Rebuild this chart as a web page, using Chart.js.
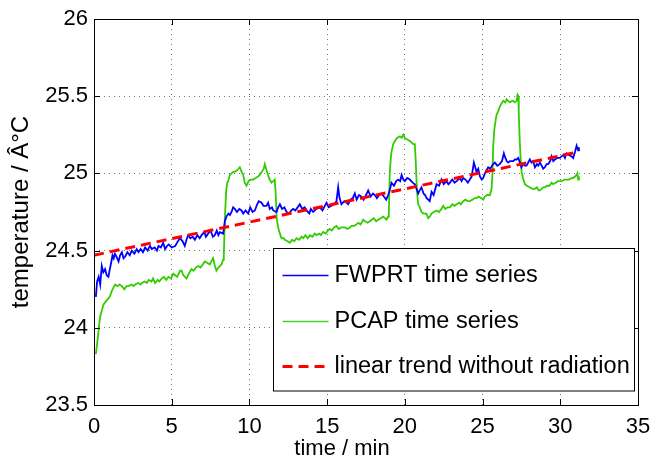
<!DOCTYPE html>
<html>
<head>
<meta charset="utf-8">
<script src="https://cdn.jsdelivr.net/npm/chart.js@4.4.0/dist/chart.umd.min.js"></script>
<style>
  html, body { margin: 0; padding: 0; background: #fff; }
  #wrap { width: 654px; height: 459px; }
</style>
</head>
<body>
<div id="wrap"><canvas id="tempChart" width="654" height="459"></canvas></div>
<script>
// time (min) / temperature (degC) pairs
const fwprtSeries = [
  [0.12,24.20],[0.2,24.30],[0.3,24.33],[0.4,24.28],[0.5,24.40],[0.6,24.36],[0.71,24.38],[0.82,24.34],[0.93,24.33],[1.0,24.37],
  [1.1,24.42],[1.19,24.47],[1.27,24.45],[1.35,24.48],[1.45,24.46],[1.58,24.43],[1.68,24.47],[1.79,24.49],[1.9,24.45],[2.0,24.46],
  [2.15,24.49],[2.3,24.47],[2.43,24.50],[2.6,24.48],[2.75,24.51],[2.86,24.49],[3.0,24.51],[3.15,24.49],[3.29,24.52],[3.45,24.50],
  [3.6,24.53],[3.72,24.51],[3.9,24.52],[4.05,24.50],[4.15,24.53],[4.3,24.52],[4.45,24.55],[4.58,24.51],[4.7,24.53],[4.8,24.54],
  [5.0,24.52],[5.22,24.53],[5.4,24.56],[5.54,24.58],[5.7,24.56],[5.84,24.53],[5.95,24.57],[6.06,24.60],[6.2,24.58],[6.35,24.59],
  [6.49,24.57],[6.65,24.60],[6.8,24.58],[6.92,24.60],[7.1,24.62],[7.2,24.59],[7.34,24.61],[7.5,24.63],[7.65,24.59],[7.77,24.60],
  [7.9,24.63],[8.0,24.60],[8.1,24.62],[8.31,24.61],[8.42,24.69],[8.52,24.72],[8.65,24.74],[8.75,24.73],[8.85,24.75],[8.95,24.78],
  [9.06,24.77],[9.2,24.75],[9.35,24.77],[9.49,24.76],[9.6,24.74],[9.75,24.76],[9.92,24.74],[10.05,24.78],[10.2,24.75],[10.35,24.76],
  [10.5,24.80],[10.6,24.82],[10.78,24.81],[10.9,24.79],[11.1,24.79],[11.2,24.81],[11.31,24.77],[11.45,24.78],[11.53,24.76],[11.74,24.75],
  [11.85,24.78],[11.96,24.80],[12.1,24.77],[12.25,24.78],[12.39,24.75],[12.55,24.74],[12.7,24.76],[12.81,24.77],[12.95,24.76],[13.1,24.78],
  [13.24,24.80],[13.4,24.77],[13.55,24.78],[13.67,24.76],[13.85,24.74],[13.95,24.77],[14.1,24.75],[14.3,24.77],[14.53,24.78],[14.7,24.76],
  [14.85,24.79],[14.96,24.81],[15.1,24.78],[15.28,24.79],[15.45,24.80],[15.6,24.82],[15.71,24.91],[15.8,24.84],[15.92,24.80],[16.1,24.82],
  [16.25,24.81],[16.35,24.80],[16.5,24.83],[16.65,24.84],[16.78,24.87],[16.9,24.83],[17.05,24.86],[17.21,24.85],[17.35,24.83],[17.5,24.86],
  [17.64,24.89],[17.8,24.85],[17.95,24.87],[18.07,24.86],[18.2,24.84],[18.35,24.86],[18.5,24.87],[18.65,24.85],[18.8,24.83],[18.93,24.86],
  [19.05,24.90],[19.14,24.94],[19.3,24.92],[19.45,24.95],[19.57,24.96],[19.7,24.95],[19.79,24.99],[19.9,24.96],[20.0,24.95],[20.15,24.97],
  [20.32,24.96],[20.5,24.94],[20.64,24.93],[20.75,24.90],[20.86,24.87],[20.95,24.89],[21.07,24.91],[21.2,24.87],[21.3,24.86],[21.4,24.84],
  [21.5,24.83],[21.6,24.82],[21.72,24.88],[21.85,24.86],[22.04,24.93],[22.2,24.92],[22.36,24.96],[22.5,24.93],[22.68,24.95],[22.8,24.93],
  [22.9,24.94],[23.05,24.96],[23.2,24.94],[23.33,24.95],[23.54,24.97],[23.65,24.95],[23.75,24.97],[23.9,24.96],[24.05,24.94],[24.18,24.96],
  [24.3,24.98],[24.44,25.07],[24.5,25.05],[24.61,25.01],[24.72,25.03],[24.83,24.98],[24.95,24.96],[25.04,24.97],[25.15,25.00],[25.25,25.02],
  [25.36,25.04],[25.5,25.03],[25.68,25.06],[25.79,25.07],[25.95,25.05],[26.1,25.06],[26.25,25.08],[26.37,25.13],[26.43,25.11],[26.55,25.08],
  [26.65,25.07],[26.76,25.08],[26.97,25.08],[27.08,25.09],[27.19,25.09],[27.3,25.10],[27.4,25.07],[27.5,25.04],[27.61,25.06],[27.72,25.05],
  [27.83,25.05],[28.04,25.09],[28.15,25.07],[28.26,25.08],[28.37,25.04],[28.5,25.06],[28.58,25.05],[28.69,25.07],[28.8,25.05],[28.9,25.03],
  [29.01,25.04],[29.12,25.06],[29.22,25.06],[29.35,25.08],[29.44,25.11],[29.55,25.08],[29.65,25.09],[29.8,25.10],[29.97,25.10],[30.08,25.11],
  [30.2,25.12],[30.3,25.10],[30.4,25.13],[30.55,25.12],[30.73,25.11],[30.83,25.10],[30.95,25.14],[31.05,25.18],[31.15,25.15],[31.2,25.17]
];

const pcapSeries = [
  [0.12,23.83],[0.18,23.88],[0.25,23.94],[0.32,24.01],[0.39,24.07],[0.5,24.11],[0.61,24.15],[0.75,24.17],[0.93,24.19],[1.05,24.21],
  [1.15,24.24],[1.25,24.26],[1.36,24.28],[1.5,24.27],[1.65,24.28],[1.79,24.27],[1.95,24.25],[2.1,24.27],[2.22,24.27],[2.4,24.28],
  [2.55,24.27],[2.65,24.28],[2.85,24.29],[3.0,24.28],[3.08,24.29],[3.25,24.30],[3.4,24.29],[3.51,24.31],[3.7,24.30],[3.8,24.32],
  [3.93,24.29],[4.1,24.31],[4.2,24.30],[4.36,24.32],[4.5,24.33],[4.65,24.31],[4.79,24.33],[4.95,24.32],[5.1,24.35],[5.22,24.34],
  [5.35,24.33],[5.54,24.37],[5.63,24.37],[5.75,24.34],[5.85,24.33],[5.95,24.32],[6.1,24.35],[6.27,24.38],[6.4,24.37],[6.55,24.39],
  [6.7,24.40],[6.85,24.39],[7.0,24.41],[7.13,24.43],[7.3,24.42],[7.45,24.41],[7.55,24.43],[7.66,24.45],[7.78,24.40],[7.88,24.37],
  [8.0,24.39],[8.1,24.40],[8.2,24.41],[8.3,24.44],[8.35,24.46],[8.42,24.71],[8.5,24.88],[8.57,24.94],[8.63,24.95],[8.74,24.99],
  [8.85,25.00],[8.95,25.01],[9.06,25.01],[9.2,25.02],[9.3,25.03],[9.38,25.04],[9.5,25.01],[9.6,24.99],[9.7,24.94],[9.81,24.92],
  [9.95,24.95],[10.1,24.96],[10.24,24.96],[10.4,24.97],[10.55,24.98],[10.67,24.99],[10.8,25.01],[10.92,25.03],[10.99,25.06],[11.1,25.02],
  [11.2,24.99],[11.3,24.96],[11.42,24.94],[11.53,24.95],[11.63,24.96],[11.7,24.85],[11.75,24.71],[11.85,24.65],[11.96,24.61],[12.06,24.58],
  [12.2,24.58],[12.28,24.57],[12.45,24.56],[12.6,24.55],[12.75,24.57],[12.88,24.56],[13.03,24.58],[13.2,24.57],[13.35,24.59],[13.46,24.58],
  [13.6,24.60],[13.75,24.58],[13.89,24.60],[14.05,24.59],[14.2,24.61],[14.31,24.60],[14.5,24.61],[14.6,24.60],[14.74,24.62],[14.9,24.61],
  [15.05,24.63],[15.17,24.64],[15.3,24.63],[15.45,24.65],[15.6,24.66],[15.75,24.64],[15.9,24.65],[16.03,24.65],[16.14,24.65],[16.3,24.64],
  [16.46,24.65],[16.57,24.66],[16.75,24.66],[16.89,24.67],[17.0,24.68],[17.15,24.67],[17.32,24.70],[17.43,24.69],[17.6,24.68],[17.75,24.69],
  [17.86,24.70],[18.0,24.71],[18.15,24.69],[18.28,24.70],[18.45,24.71],[18.6,24.72],[18.72,24.71],[18.82,24.70],[18.92,24.72],[18.97,24.74],
  [19.03,25.01],[19.1,25.10],[19.14,25.14],[19.25,25.19],[19.36,25.21],[19.5,25.23],[19.68,25.24],[19.8,25.23],[19.9,25.25],[20.0,25.23],
  [20.15,25.22],[20.32,25.21],[20.43,25.20],[20.54,25.19],[20.64,25.19],[20.7,25.08],[20.75,24.95],[20.8,24.86],[20.86,24.80],[20.96,24.78],
  [21.07,24.75],[21.2,24.74],[21.39,24.74],[21.5,24.71],[21.6,24.72],[21.72,24.74],[21.85,24.75],[22.04,24.76],[22.2,24.75],[22.35,24.77],
  [22.47,24.79],[22.6,24.77],[22.75,24.78],[22.9,24.78],[23.05,24.80],[23.2,24.79],[23.33,24.80],[23.5,24.81],[23.6,24.80],[23.75,24.82],
  [23.9,24.83],[24.05,24.82],[24.18,24.82],[24.35,24.83],[24.5,24.84],[24.61,24.84],[24.75,24.85],[24.9,24.84],[25.04,24.83],[25.15,24.85],
  [25.3,24.86],[25.47,24.86],[25.58,24.90],[25.64,25.00],[25.68,25.17],[25.75,25.28],[25.82,25.33],[25.9,25.38],[26.0,25.40],[26.1,25.43],
  [26.2,25.45],[26.33,25.47],[26.45,25.46],[26.55,25.48],[26.65,25.47],[26.76,25.46],[26.9,25.47],[26.97,25.47],[27.08,25.46],[27.19,25.47],
  [27.25,25.51],[27.3,25.50],[27.33,25.38],[27.4,25.19],[27.45,25.10],[27.51,25.01],[27.6,24.97],[27.72,24.93],[27.85,24.92],[28.04,24.91],
  [28.2,24.90],[28.37,24.90],[28.5,24.91],[28.6,24.89],[28.69,24.89],[28.8,24.90],[28.9,24.91],[29.01,24.91],[29.15,24.92],[29.3,24.92],
  [29.44,24.94],[29.54,24.93],[29.7,24.94],[29.86,24.95],[29.97,24.95],[30.1,24.95],[30.29,24.96],[30.4,24.96],[30.55,24.96],[30.73,24.97],
  [30.83,24.97],[30.95,24.98],[31.05,24.99],[31.1,25.00],[31.15,24.96],[31.2,24.98]
];

const trendLine = [[0, 24.47], [31.2, 25.14]];

const seriesNames = ["FWPRT time series", "PCAP time series", "linear trend without radiation"];
const xTicks = [0, 5, 10, 15, 20, 25, 30, 35];
const yTicks = [23.5, 24, 24.5, 25, 25.5, 26];
const xTitle = "time / min";
const yTitle = "temperature / Â°C";

const toPts = arr => arr.map(p => ({ x: p[0], y: p[1] }));
const FONT = "'Liberation Sans', Arial, sans-serif";

// box, inward ticks, x label and legend, drawn MATLAB-style
const axesBox = {
  id: "axesBox",
  afterDatasetsDraw(chart) {
    const { ctx, chartArea: a, scales: { x, y } } = chart;
    ctx.save();
    ctx.strokeStyle = "#000";
    ctx.lineWidth = 1;
    ctx.setLineDash([]);
    ctx.strokeRect(Math.round(a.left) + 0.5, Math.round(a.top) + 0.5,
      Math.round(a.right - a.left), Math.round(a.bottom - a.top));
    const tl = 6;
    ctx.beginPath();
    xTicks.forEach(v => {
      const px = Math.round(x.getPixelForValue(v)) + 0.5;
      ctx.moveTo(px, a.bottom); ctx.lineTo(px, a.bottom - tl);
      ctx.moveTo(px, a.top); ctx.lineTo(px, a.top + tl);
    });
    yTicks.forEach(v => {
      const py = Math.round(y.getPixelForValue(v)) + 0.5;
      ctx.moveTo(a.left, py); ctx.lineTo(a.left + tl, py);
      ctx.moveTo(a.right, py); ctx.lineTo(a.right - tl, py);
    });
    ctx.stroke();

    // x axis label (sits a bit left of centre in the original)
    ctx.fillStyle = "#000";
    ctx.font = "22px " + FONT;
    ctx.textAlign = "center";
    ctx.textBaseline = "middle";
    ctx.fillText(xTitle, (a.left + a.right) / 2 - 24, a.bottom + 44);

    // legend
    const bx = a.right - 364.5, by = a.bottom - 156.5, bw = 361, bh = 142.5;
    ctx.fillStyle = "#fff";
    ctx.fillRect(bx, by, bw, bh);
    ctx.strokeRect(bx, by, bw, bh);
    const rows = [by + 26, by + 72, by + 117];
    const styles = [
      { c: "#0000ff", w: 1.3, d: [] },
      { c: "rgb(70,210,40)", w: 1.3, d: [] },
      { c: "#ff0000", w: 3, d: [10, 6] }
    ];
    ctx.font = "23.5px " + FONT;
    ctx.textAlign = "left";
    seriesNames.forEach((name, i) => {
      const s = styles[i];
      ctx.beginPath();
      ctx.strokeStyle = s.c;
      ctx.lineWidth = s.w;
      ctx.setLineDash(s.d);
      ctx.moveTo(bx + 9, Math.round(rows[i]) + 0.5);
      ctx.lineTo(bx + 55, Math.round(rows[i]) + 0.5);
      ctx.stroke();
      ctx.setLineDash([]);
      ctx.fillStyle = "#000";
      ctx.fillText(name, bx + 61, rows[i] + 1);
    });
    ctx.restore();
  }
};

new Chart(document.getElementById("tempChart"), {
  type: "scatter",
  data: {
    datasets: [
      {
        label: seriesNames[0],
        data: toPts(fwprtSeries),
        showLine: true,
        borderColor: "#0000ff",
        borderWidth: 1.8,
        pointRadius: 0,
        order: 2
      },
      {
        label: seriesNames[1],
        data: toPts(pcapSeries),
        showLine: true,
        borderColor: "rgb(51,204,0)",
        borderWidth: 1.8,
        pointRadius: 0,
        order: 3
      },
      {
        label: seriesNames[2],
        data: toPts(trendLine),
        showLine: true,
        borderColor: "#ff0000",
        borderWidth: 3,
        borderDash: [10, 6],
        pointRadius: 0,
        order: 1
      }
    ]
  },
  options: {
    responsive: false,
    animation: false,
    devicePixelRatio: 1,
    layout: { padding: { top: 19, right: 16, left: 0, bottom: 0 } },
    plugins: {
      legend: { display: false },
      tooltip: { enabled: false }
    },
    scales: {
      x: {
        type: "linear",
        min: 0,
        max: 35,
        afterFit: s => { s.height = 54; s.paddingLeft = 0; s.paddingRight = 0; },
        afterBuildTicks: s => { s.ticks = xTicks.map(v => ({ value: v })); },
        ticks: { color: "#000", font: { family: FONT, size: 22 }, padding: 9, maxRotation: 0,
                 callback: v => String(v) },
        grid: { color: "rgba(0,0,0,0.55)", drawTicks: false },
        border: { display: false, dash: [1, 4] }
      },
      y: {
        type: "linear",
        min: 23.5,
        max: 26,
        afterFit: s => { s.width = 94; s.paddingTop = 0; s.paddingBottom = 0; },
        afterBuildTicks: s => { s.ticks = yTicks.map(v => ({ value: v })); },
        ticks: { color: "#000", font: { family: FONT, size: 22 }, padding: 6,
                 callback: v => String(v) },
        grid: { color: "rgba(0,0,0,0.55)", drawTicks: false },
        border: { display: false, dash: [1, 4] },
        title: { display: true, text: yTitle, color: "#000", font: { family: FONT, size: 24 }, padding: { top: 7, bottom: 0 } }
      }
    }
  },
  plugins: [axesBox]
});
</script>
</body>
</html>
